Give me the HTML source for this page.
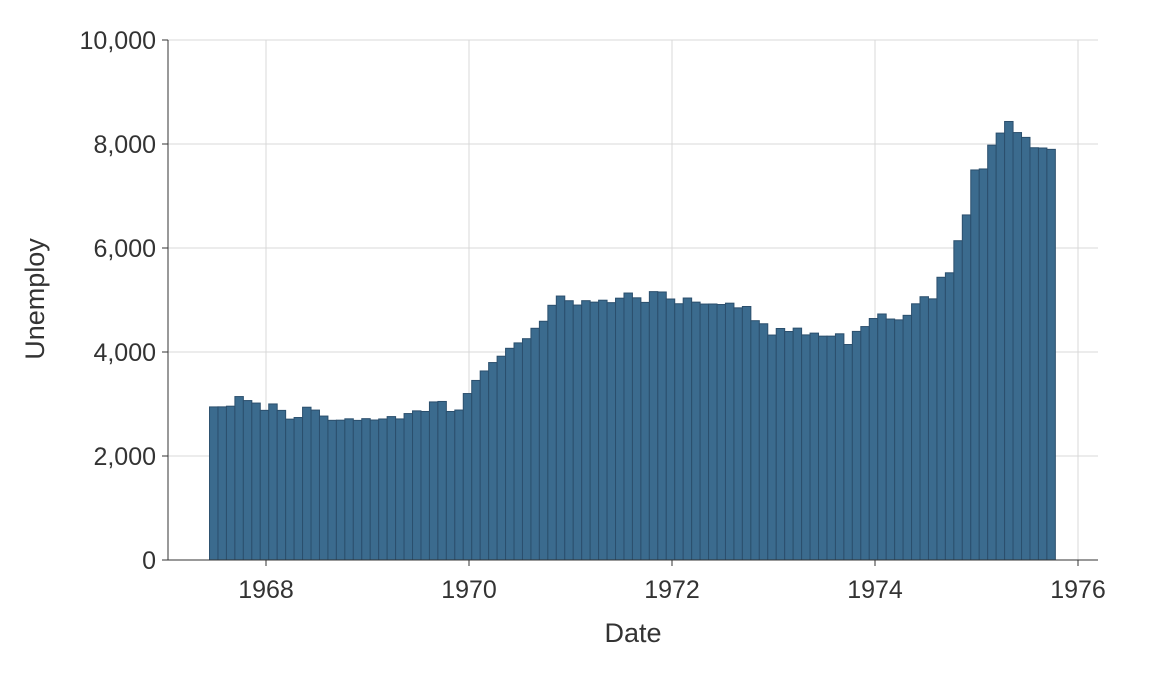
<!DOCTYPE html>
<html><head><meta charset="utf-8"><style>
body{margin:0;background:#fff;}
text{font-family:"Liberation Sans",sans-serif;fill:#333;}
</style></head><body>
<svg id="chart" width="1152" height="672"></svg>
<script>
const startYear=1967, startMonth=7;
const unemploy=[2944,2945,2958,3143,3066,3018,2878,3001,2877,2709,2740,2938,2883,2768,2686,2689,2715,2685,2718,2692,2712,2758,2713,2816,2868,2856,3040,3049,2856,2884,3201,3453,3635,3797,3919,4071,4175,4256,4456,4591,4898,5076,4986,4903,4987,4959,4996,4949,5035,5134,5042,4954,5161,5154,5019,4928,5038,4959,4922,4923,4913,4939,4849,4875,4602,4543,4326,4452,4394,4459,4329,4363,4305,4305,4350,4144,4396,4489,4644,4731,4634,4618,4705,4927,5063,5022,5437,5523,6140,6636,7501,7520,7978,8210,8433,8220,8127,7928,7923,7897];
const yTicks=[0,2000,4000,6000,8000,10000];
const yTickLabels=["0","2,000","4,000","6,000","8,000","10,000"];
const xTicks=[1968,1970,1972,1974,1976];

const NS="http://www.w3.org/2000/svg";
const svg=document.getElementById('chart');
const L=168,R=1098,T=40,B=560;
const xs=t=>266+(t-1968)*101.5;
const ys=v=>B-(v/10000)*(B-T);
function mk(tag,attrs,parent){const e=document.createElementNS(NS,tag);for(const k in attrs)e.setAttribute(k,attrs[k]);(parent||svg).appendChild(e);return e;}

const grid=mk('g',{});


yTicks.forEach(v=>{const l=mk('line',{x1:L,x2:R,y1:ys(v),y2:ys(v),stroke:'#d9d9d9','stroke-width':1},grid);

});
xTicks.forEach(v=>{const l=mk('line',{x1:xs(v),x2:xs(v),y1:T,y2:B,stroke:'#d9d9d9','stroke-width':1},grid);

});

const bars=mk('g',{});


unemploy.forEach((v,i)=>{
  const m=startMonth-1+i; const yr=startYear+Math.floor(m/12); const mo=m%12;
  const t=yr+mo/12; const c=xs(t)-1.5; const w=101.5/12;
  const r=mk('rect',{x:c-w/2,y:ys(v),width:w,height:B-ys(v),fill:'#3b6b8e',stroke:'#2b4f6d','stroke-width':1},bars);
  
  
});

const ax=mk('g',{});


mk('line',{x1:L,x2:L,y1:T,y2:B,stroke:'#333'},ax);
mk('line',{x1:L,x2:R,y1:B,y2:B,stroke:'#333'},ax);
yTicks.forEach((v,i)=>{mk('line',{x1:L-6,x2:L,y1:ys(v),y2:ys(v),stroke:'#333'},ax);
const t=mk('text',{x:L-12,y:ys(v)+9,'text-anchor':'end','font-size':25},ax);t.textContent=yTickLabels[i];

});
xTicks.forEach(v=>{mk('line',{x1:xs(v),x2:xs(v),y1:B,y2:B+6,stroke:'#333'},ax);
const t=mk('text',{x:xs(v),y:B+38,'text-anchor':'middle','font-size':25},ax);t.textContent=v;

});
const xt=mk('text',{x:633,y:642,'text-anchor':'middle','font-size':27},ax);xt.textContent='Date';


const yt=mk('text',{x:0,y:0,'text-anchor':'middle','font-size':27,transform:'translate(44,299) rotate(-90)'},ax);yt.textContent='Unemploy';


</script>
</body></html>
